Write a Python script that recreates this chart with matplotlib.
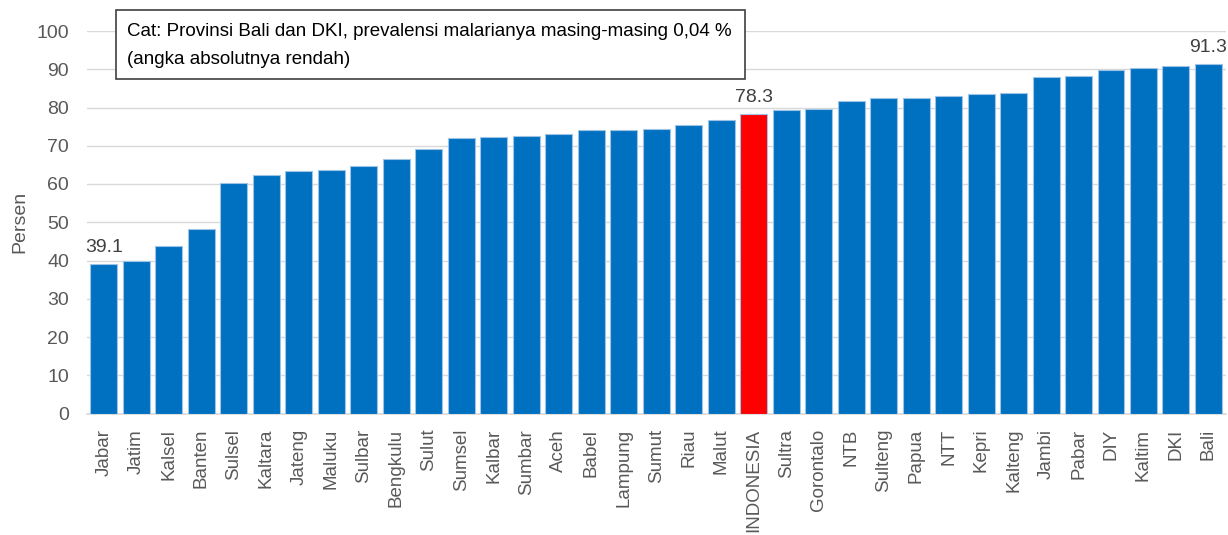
import matplotlib.pyplot as plt
from matplotlib.patches import Rectangle

provinsi = ['Jabar', 'Jatim', 'Kalsel', 'Banten', 'Sulsel', 'Kaltara', 'Jateng',
            'Maluku', 'Sulbar', 'Bengkulu', 'Sulut', 'Sumsel', 'Kalbar', 'Sumbar',
            'Aceh', 'Babel', 'Lampung', 'Sumut', 'Riau', 'Malut', 'INDONESIA',
            'Sultra', 'Gorontalo', 'NTB', 'Sulteng', 'Papua', 'NTT', 'Kepri',
            'Kalteng', 'Jambi', 'Pabar', 'DIY', 'Kaltim', 'DKI', 'Bali']
persen = [39.1, 40.0, 43.8, 48.3, 60.3, 62.3, 63.5,
          63.7, 64.7, 66.6, 69.1, 71.9, 72.2, 72.6,
          73.2, 74.1, 74.2, 74.4, 75.3, 76.8, 78.3,
          79.4, 79.5, 81.8, 82.4, 82.4, 82.9, 83.6,
          83.7, 88.1, 88.3, 89.8, 90.3, 90.9, 91.3]
label_tampil = ['Jabar', 'INDONESIA', 'Bali']
catatan = ['Cat: Provinsi Bali dan DKI, prevalensi malarianya masing-masing 0,04 %',
           '(angka absolutnya rendah)']

plt.rcParams['font.family'] = ['Liberation Sans', 'DejaVu Sans']

W, H = 1228, 535
fig = plt.figure(figsize=(W / 100, H / 100), dpi=100)
ax = fig.add_axes([87 / W, 1 - 413.5 / H, 1139 / W, 382.5 / H])

warna = ['#FF0000' if p == 'INDONESIA' else '#0070C0' for p in provinsi]
x = range(len(provinsi))
bars = ax.bar(x, persen, width=0.83, color=warna, edgecolor='#9DC3E6', linewidth=0.8, zorder=3)

for b, p, v in zip(bars, provinsi, persen):
    if p in label_tampil:
        ax.text(b.get_x() + b.get_width() / 2, v + 2.2, f'{v:.1f}', ha='center', va='bottom',
                fontsize=14, color='#404040')

ax.set_ylim(0, 100)
ax.set_xlim(-0.52, len(provinsi) - 0.46)
ax.set_yticks(range(0, 101, 10))
ax.yaxis.grid(True, color='#D9D9D9', linewidth=1, zorder=0)
for s in ['top', 'right', 'left']:
    ax.spines[s].set_visible(False)
ax.spines['bottom'].set_color('#D9D9D9')
ax.spines['bottom'].set_linewidth(1.2)
ax.tick_params(axis='both', length=0, labelcolor='#595959')
ax.tick_params(axis='x', pad=11, labelsize=13.5)
ax.tick_params(axis='y', pad=13, labelsize=14)
ax.set_xticks(list(x))
ax.set_xticklabels(provinsi, rotation=90)
ax.set_ylabel('Persen', fontsize=14, color='#595959', labelpad=6)

# kotak catatan (sebagian di atas area plot)
fig.patches.append(Rectangle((116 / W, 1 - 79 / H), 629 / W, 69 / H, transform=fig.transFigure,
                             facecolor='white', edgecolor='#404040', linewidth=1.2, zorder=5))
fig.text(127 / W, 1 - 31 / H, catatan[0], ha='left', va='center', fontsize=13.5, color='black', zorder=6)
fig.text(127 / W, 1 - 59 / H, catatan[1], ha='left', va='center', fontsize=13.5, color='black', zorder=6)

plt.savefig('out.png', dpi=100)
plt.close()
